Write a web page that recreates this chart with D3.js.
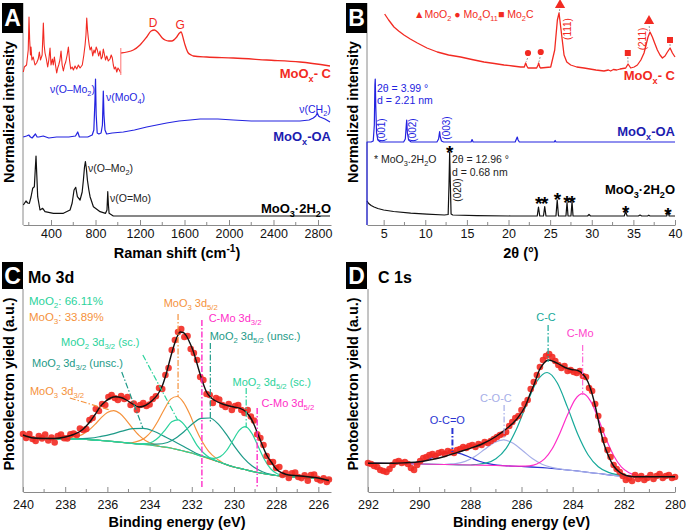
<!DOCTYPE html>
<html>
<head>
<meta charset="utf-8">
<script src="https://cdn.jsdelivr.net/npm/d3@7"></script>
<style>
  body { margin: 0; background: #fff; }
  svg { font-family: "Liberation Sans", Arial, sans-serif; }
</style>
</head>
<body>
<div id="canvas"></div>
<script>
"use strict"

/* ---------- tick labels ---------- */
let ramanTicks = [400, 800, 1200, 1600, 2000, 2400, 2800];
let ramanMinor = [200, 600, 1000, 1400, 1800, 2200, 2600];
let thetaTicks = [5, 10, 15, 20, 25, 30, 35, 40];
let thetaMinor = [7.5, 12.5, 17.5, 22.5, 27.5, 32.5, 37.5];
let moTicks = [240, 238, 236, 234, 232, 230, 228, 226];
let moMinor = [239, 237, 235, 233, 231, 229, 227];
let cTicks = [292, 290, 288, 286, 284, 282, 280];
let cMinor = [291, 289, 287, 285, 283, 281];

/* ---------- A: Raman spectra [shift, intensity] ---------- */
let ramanC1 = [[151,153],[160,158],[180,160],[195,175],[202,208],[208,185],[215,170],[220,178],[228,165],[240,168],
  [256,160],[270,162],[285,166],[295,173],[305,165],[320,170],[331,202],[338,180],[346,172],[358,166],[370,158],
  [380,165],[391,177],[400,160],[412,166],[420,160],[430,168],[440,160],[451,152],[460,157],[469,160],[480,165],
  [490,174],[500,160],[511,154],[522,160],[532,163],[545,170],[556,178],[566,165],[577,156],[590,158],[601,155],
  [616,159],[631,156],[646,160],[661,157],[681,160],[695,170],[706,180],[714,190],[721,207],[728,195],[735,187],
  [743,180],[751,175],[763,178],[775,169],[786,175],[796,172],[806,178],[816,175],[828,169],[841,174],[851,166],
  [861,168],[870,176],[879,171],[890,165],[901,169],[915,164],[930,166],[941,170],[951,167],[960,160],[969,156],
  [980,158],[991,153],[1002,157],[1014,155],[1027,152]];
let ramanC2 = [[1027,172],[1140,175],[1200,180],[1260,188],[1300,194],[1330,195],[1365,192],[1400,187],[1425,185],
  [1460,184],[1485,184],[1530,188],[1555,192],[1569,193],[1590,186],[1605,180],[1634,172],[1660,170],[1679,169],
  [1800,168],[2039,167],[2339,165],[2638,163],[2908,159]];
let ramanOA = [[150,88],[180,89],[200,90],[215,88],[230,87],[245,89],[260,91],[275,88],[290,88],[330,89],[380,87],
  [450,88],[560,88],[620,89],[640,93],[655,88],[730,88],[770,90],[785,95],[795,125],[800,146],[806,110],[815,92],
  [830,91],[850,92],[862,100],[870,134],[876,110],[885,95],[900,91],[950,92],[1050,93],[1150,95],[1260,98],
  [1350,100],[1440,102],[1550,104],[1650,105],[1740,106],[1900,106],[2039,105],[2200,104],[2339,104],[2500,104],
  [2638,104],[2720,105],[2758,107],[2780,109],[2794,112],[2805,109],[2818,108],[2863,106],[2908,103]];
let ramanH2O = [[151,20],[175,24],[190,22],[205,21.7],[220,28],[235,36.7],[250,38.3],[258,55],[265,69],[272,50],
  [280,28.3],[301,15],[325,16.7],[346,13.3],[421,11.7],[511,11.7],[571,15],[590,22],[607,35],[622,37.7],[637,28.3],
  [661,25],[680,33],[691,45],[701,58],[709,63.3],[718,56],[727,45],[740,35],[751,28.3],[781,18.3],[841,13.3],
  [890,11.7],[903,15],[910,33.3],[916,20],[922,11.7],[960,9],[1100,9],[2908,9]];

/* ---------- B: XRD patterns [2theta, intensity] ---------- */
let xrdC = [[5.12,211],[5.6,205],[6.24,198],[6.8,194],[7.44,190],[8.2,186],[9.05,182],[10.2,177],[11.45,173],
  [12.8,170],[14.25,168],[15.6,165.5],[17.05,163],[18.3,161.5],[19.46,160],[20.5,159],[21.46,158],[21.9,158],
  [22.06,162],[22.2,159],[22.34,157],[23.38,157],[23.55,160],[23.62,162],[23.75,158],[23.86,157],[25.07,158],
  [25.55,175],[25.87,205],[26.07,212],[26.27,198],[26.67,170],[27.0,163],[27.47,160],[28.2,158],[29.07,157],
  [30.5,155],[31.47,154],[32.0,155],[32.27,154],[32.6,155.5],[33.0,155],[33.4,156],[34.08,157],[34.36,161],
  [34.68,157],[35.1,158],[35.48,160],[35.9,165],[36.28,172],[36.76,188],[37.0,193],[37.28,188],[37.6,181],
  [37.88,175],[38.2,170],[38.49,167],[38.8,169],[39.09,173],[39.41,177],[39.69,172],[40.0,168]];
let xrdOA = [[3.0,0],[3.0,83],[3.5,83],[3.75,84],[3.88,100],[3.95,140],[3.99,146],[4.05,120],[4.15,92],[4.3,85],
  [4.6,83],[7.4,83],[7.6,86],[7.72,100],[7.77,105],[7.85,92],[8.0,85],[8.3,83],[11.4,83],[11.6,86],[11.7,92],
  [11.73,93.3],[11.8,88],[11.95,84],[12.2,83],[15.5,83],[15.62,85.5],[15.75,83],[20.8,83],[20.95,86],[21.05,88],
  [21.15,85],[21.3,83],[25.5,83],[25.6,84.5],[25.7,83],[30,83],[40,83]];
let xrdH2O = [[3.0,24],[3.2,21.5],[3.5,19.5],[3.85,18],[4.3,16.5],[5.0,15],[6.2,13.5],[8.25,11.8],[10.2,10.8],
  [12.3,10],[12.75,10.5],[12.85,40],[12.93,73],[13.0,45],[13.1,11],[13.3,10],[16.2,9.3],[20.3,9],[23.45,9],
  [23.6,18],[23.75,9],[24.2,9],[24.35,18.5],[24.5,9],[25.7,9],[25.85,25],[26.0,9],[26.9,9],[27.03,22.5],[27.15,9],
  [27.5,9],[27.63,23.5],[27.75,9],[29.5,9],[29.67,10.5],[29.85,9],[33.9,9],[34.08,13.5],[34.25,9],[35.6,9],
  [35.8,10],[36.0,9],[36.7,9],[36.85,9.8],[37.0,9],[39.0,9],[39.16,13.5],[39.3,9],[40,9]];
let starPeaks = [[12.93,78],[23.62,27],[24.35,27],[25.87,31],[27.03,28],[27.63,28],[34.08,18],[39.16,16]];

/* ---------- C: Mo 3d XPS [binding energy, counts] ---------- */
let moDots = [[240,58],[239.85,54],[239.7,58],[239.55,53],[239.4,51],[239.25,56],[239.1,53.6],[238.95,57.5],
  [238.8,51.5],[238.65,54.5],[238.5,49.5],[238.35,56],[238.2,57.4],[238.05,53.8],[237.9,53.6],[237.75,57.6],
  [237.6,58.5],[237.45,57],[237.3,63.5],[237.15,62],[237,63],[236.85,72],[236.7,74],[236.55,83],[236.4,81],
  [236.25,88],[236.1,87],[235.95,95],[235.8,97],[235.65,94],[235.5,92],[235.35,96],[235.2,93],[235.05,95],
  [234.9,87],[234.75,88.5],[234.6,82],[234.45,87],[234.3,89],[234.15,86],[234,87.5],[233.85,93],[233.7,95.7],
  [233.55,104],[233.4,103],[233.25,117],[233.1,124],[232.95,142],[232.8,152],[232.65,160],[232.5,163],
  [232.35,155],[232.2,156],[232.05,143],[231.9,139],[231.75,132],[231.6,115],[231.45,112],[231.3,98],
  [231.15,97],[231,89],[230.85,94],[230.7,92.5],[230.55,87],[230.4,85],[230.25,88],[230.1,82],[229.95,86],
  [229.8,87],[229.65,82],[229.5,79],[229.35,82],[229.2,75.5],[229.05,71.5],[228.9,57.6],[228.75,54],[228.6,47],
  [228.45,36],[228.3,30],[228.15,30],[228,24],[227.85,25],[227.7,17],[227.55,19],[227.4,14],[227.25,18.7],
  [227.1,19.5],[226.95,15],[226.8,13.9],[226.65,16.6],[226.5,11.3],[226.35,16.9],[226.2,17.5],[226.05,13.1],
  [225.9,11.5],[225.75,13.8],[225.6,10],[225.5,12.5]];
let moFit = [[240,57],[239.5,54],[239,53.5],[238.5,53.5],[238,55],[237.6,57.5],[237.3,60.5],[237,66],[236.8,71],
  [236.6,77],[236.35,85],[236.1,90.5],[235.85,94],[235.6,95.3],[235.35,94.5],[235.1,92],[234.8,88],[234.5,85],
  [234.2,86.5],[233.9,91],[233.6,98],[233.4,106],[233.2,119],[233,135],[232.85,146],[232.7,155],[232.55,160],
  [232.4,159.5],[232.25,156],[232.1,149.5],[231.95,142],[231.8,132],[231.65,121],[231.5,111],[231.3,100],
  [231.1,94.5],[230.9,91.5],[230.6,88.5],[230.3,86.5],[230,85],[229.7,83.5],[229.45,80.5],[229.25,75.5],
  [229.05,67.5],[228.85,57],[228.65,46.5],[228.45,37],[228.2,29],[228,23],[227.7,19],[227.4,17],[227,16.3],
  [226.5,15.3],[226,14],[225.5,11.5]];
let moBg = [[240,55],[239,54],[238,53],[237.5,52.8],[237,52.5],[236.5,51.8],[236,51],[235.5,50],[235,49],
  [234.5,48],[234,47],[233.5,45.5],[233,44],[232.5,41.5],[232,39],[231.5,35.5],[231,32],[230.5,28.5],[230,25],
  [229.5,22.5],[229,20],[228.5,18],[228,16.5],[227,15],[226,13.5],[225.4,13]];
let moO3a = [[237.7,54.5],[237.2,57.4],[236.9,61.4],[236.6,67.3],[236.3,74.1],[236,79.6],[235.7,81.4],[235.4,78.4],
  [235.1,71.7],[234.8,63.7],[234.5,56.6],[234.2,51.6],[233.7,46.9]];
let moO2ua = [[237.8,53],[237.3,53.3],[236.8,53.8],[236.3,55.6],[235.8,57.9],[235.3,60.9],[234.8,63.3],[234.3,63.6],
  [233.8,60.7],[233.3,55.6],[232.8,50.3],[232.3,44.5],[231.8,38.8],[231.3,34.7],[230.8,30.8]];
let moO2sa = [[234.45,48.2],[234.15,48.5],[233.85,50.3],[233.55,55],[233.25,62.4],[232.95,70.2],[232.65,72.2],
  [232.35,67.2],[232.05,57.5],[231.75,46.6],[231.45,39.3],[231.15,34.3],[230.85,31.3]];
let moO3b = [[234.7,49.9],[234.2,54.5],[233.9,61],[233.6,71],[233.3,82.8],[233,92.9],[232.7,95.5],[232.4,89.9],
  [232.1,78],[231.8,62.8],[231.5,50.2],[231.2,40.6],[230.7,31.5]];
let moO2ub = [[234.15,47.8],[233.65,47.8],[233.15,49.5],[232.75,54],[232.35,60.7],[231.95,68.4],[231.55,73.6],
  [231.15,74],[230.75,68.1],[230.35,57.3],[229.95,44.8],[229.55,34.1],[229.15,26.2],[228.65,20.3],[228.15,17.2]];
let moO2sb = [[231.25,34.3],[230.95,33.7],[230.65,35.4],[230.35,41.5],[230.05,51.5],[229.75,61.7],[229.45,65.3],
  [229.15,58.6],[228.85,45.5],[228.55,32.2],[228.25,23],[227.95,18.3],[227.65,16.5]];

/* ---------- D: C 1s XPS ---------- */
let cDots = [[292,29],[291.88,28],[291.76,26],[291.64,25],[291.52,22],[291.4,21],[291.28,20],[291.16,23],
  [291.04,27],[290.92,30],[290.8,31],[290.68,29],[290.56,30],[290.44,28],[290.32,24],[290.2,22],[290.08,27],
  [289.96,31],[289.84,34],[289.72,35],[289.6,37],[289.48,38],[289.36,36],[289.24,39],[289.12,40],[289,38],
  [288.88,41],[288.76,40],[288.64,39],[288.52,42],[288.4,43],[288.28,45],[288.16,44],[288.04,46],[287.92,47],
  [287.8,45],[287.68,48],[287.56,47],[287.44,50],[287.32,49],[287.2,51],[287.08,53],[286.96,55],[286.84,57],
  [286.72,58],[286.6,60],[286.48,66],[286.36,70],[286.24,74],[286.12,76],[286,82],[285.88,88],[285.76,92],
  [285.64,103],[285.52,110],[285.4,117],[285.28,125],[285.16,132],[285.04,136],[284.92,138],[284.8,135],
  [284.68,131],[284.56,127],[284.44,124],[284.32,126],[284.2,121],[284.08,122],[283.96,120],[283.84,119],
  [283.72,121],[283.6,116],[283.48,115],[283.36,104],[283.24,101],[283.12,88],[283,76],[282.88,62],[282.76,52],
  [282.64,42],[282.52,35],[282.4,27],[282.28,23],[282.16,20],[282.04,16],[281.92,12],[281.8,14],[281.68,11],
  [281.56,17],[281.44,13],[281.32,16],[281.2,12],[281.08,14],[280.96,17],[280.84,13],[280.72,16],[280.6,18],
  [280.48,14],[280.36,16],[280.24,17],[280.12,14],[280,15]];
let cFit = [[292,28.7],[291.5,28.7],[291,28.7],[290.5,29.3],[290,30.2],[289.5,32.5],[289,35.5],[288.5,39.7],
  [288,43.7],[287.5,48.5],[287,55.5],[286.6,63],[286.2,72.5],[285.85,86],[285.65,99],[285.5,108],[285.3,122],
  [285.15,128],[284.95,132],[284.75,130.5],[284.55,128],[284.3,124.5],[284.05,122.5],[283.8,121.5],[283.6,118],
  [283.4,110],[283.25,99],[283.1,84],[282.95,66],[282.8,50],[282.6,36],[282.4,26],[282.15,19.5],[281.9,16.5],
  [281.6,15.3],[281,15.3],[280.5,15.3],[280,15.3]];
let cBg = [[292,29],[291,28.5],[290,28],[289,27.5],[288,27],[287,26.5],[286,25.5],[285,24],[284,21.5],[283,18.5],
  [282,16],[281,15.5],[280,15.5]];
let cOCO = [[290.8,28.5],[290.45,28.7],[290.1,29.75],[289.75,31.9],[289.4,35.2],[289.05,38.4],[288.7,39.75],
  [288.35,38.1],[288,34.5],[287.65,30.8],[287.3,28.35],[286.95,26.95],[286.6,26.2]];
let cCOC = [[288.95,27.7],[288.575,28.4],[288.2,30.6],[287.825,35.4],[287.45,42.5],[287.075,49.4],[286.7,52.2],
  [286.325,48.7],[285.95,41.3],[285.575,33.4],[285.2,27.8],[284.825,24.7],[284.45,22.9]];
let cCC = [[287.8,27.5],[287.4,28.8],[287,33.3],[286.6,43.7],[286.2,62.7],[285.8,87.8],[285.4,110.6],[285,119.5],
  [284.6,109],[284.2,84.6],[283.8,57.8],[283.4,37.3],[283,25.3],[282.6,19.6],[282.2,17.1]];
let cCMo = [[286,25.8],[285.7,26.2],[285.4,28],[285.1,33.1],[284.8,43.2],[284.5,58.8],[284.2,77.2],[283.9,92.7],
  [283.6,98.3],[283.3,90.9],[283,73.6],[282.7,53.4],[282.4,36.5],[282.1,25.1],[281.8,19.3],[281.5,16.7],[281.2,15.8]];

/* ---------- colours ---------- */
let red = "#f22a22", blue = "#2323e0", navy = "#1c1cb0", gray = "#8a8a8a";
let orange = "#f5923c", lgreen = "#2bd39c", dteal = "#1d9a88", magenta = "#ff2ec8";
let cTeal = "#17a99a", lav = "#a6aee8", ocoBlue = "#2a34d2";

let drawing = d3.select("#canvas").append("svg")
  .attr("width", 688)
  .attr("height", 532);

/* scales */
let xA = d3.scaleLinear().domain([148, 2917]).range([23, 331]);
let yA = d3.scaleLinear().domain([0, 222]).range([225, 3]);
let xB = d3.scaleLinear().domain([3, 40]).range([367, 675]);
let xC = d3.scaleLinear().domain([240, 225.4]).range([23, 331]);
let yC = d3.scaleLinear().domain([0, 203]).range([492, 289]);
let xD = d3.scaleLinear().domain([292, 280]).range([368, 675]);

/* text with _{subscript} and ^{superscript} */
function rich(t, str, size) {
  let shift = 0;
  str.split(/([_^]\{[^}]*\})/).forEach(p => {
    if (!p) return;
    let target = 0, body = p;
    if (p.startsWith("_{")) { target = size * 0.3; body = p.slice(2, -1); }
    else if (p.startsWith("^{")) { target = -size * 0.38; body = p.slice(2, -1); }
    let span = t.append("tspan").attr("dy", target - shift).text(body);
    if (target !== 0) span.attr("font-size", size * 0.7);
    shift = target;
  });
}

function label(x, y, str, o) {
  o = o || {};
  let size = o.size || 11;
  let t = drawing.append("text")
    .attr("x", x).attr("y", y)
    .attr("font-size", size)
    .attr("fill", o.color || "#000")
    .attr("font-weight", o.bold ? "bold" : "normal")
    .attr("text-anchor", o.anchor || "start");
  if (o.rotate) t.attr("transform", `rotate(${o.rotate},${x},${y})`).attr("dominant-baseline", "central");
  rich(t, str, size);
  return t;
}

function axes(x, y, ticks, minor, pad, title, titleY) {
  let g = drawing.append("g").attr("transform", `translate(0,${y.range()[0]})`)
    .call(d3.axisBottom(x).tickValues(ticks).tickSize(-5).tickSizeOuter(0).tickPadding(pad).tickFormat(d3.format("d")));
  g.attr("font-family", null).attr("font-size", null);
  g.selectAll("path, line").attr("stroke", gray);
  g.selectAll(".tick text").attr("font-size", 12.5).attr("fill", "#111");
  g.selectAll(".minor").data(minor).enter().append("line")
    .attr("x1", d => x(d)).attr("x2", d => x(d))
    .attr("y1", 0).attr("y2", -3)
    .attr("stroke", gray);
  drawing.append("line")
    .attr("x1", x.range()[0]).attr("x2", x.range()[0])
    .attr("y1", y.range()[1]).attr("y2", y.range()[0])
    .attr("stroke", gray);
  label((x.range()[0] + x.range()[1]) / 2, titleY, title, {size: 14.5, bold: true, anchor: "middle"});
}

function curve(x, y, data, color, width, type) {
  drawing.append("path").datum(data)
    .attr("d", d3.line().x(d => x(d[0])).y(d => y(d[1])).curve(type || d3.curveLinear))
    .attr("fill", "none")
    .attr("stroke", color)
    .attr("stroke-width", width)
    .attr("stroke-linejoin", "round");
}

/* component peak joined to the shared background outside its own range */
function withBg(bg, peak) {
  let hi = peak[0][0], lo = peak[peak.length - 1][0];
  return bg.filter(d => d[0] > hi).concat(peak, bg.filter(d => d[0] < lo));
}

function dashLine(x, y, a, b, color, w) {
  drawing.append("line")
    .attr("x1", x(a[0])).attr("y1", y(a[1]))
    .attr("x2", x(b[0])).attr("y2", y(b[1]))
    .attr("stroke", color)
    .attr("stroke-width", w || 1.2)
    .attr("stroke-dasharray", "6,2,1.5,2");
}

function panelLetter(x, y, h, letter) {
  drawing.append("rect").attr("x", x).attr("y", y).attr("width", 21).attr("height", h).attr("fill", "#000");
  drawing.append("text").attr("x", x + 10.5).attr("y", y + h / 2 + 8)
    .attr("text-anchor", "middle").attr("font-size", 23).attr("font-weight", "bold")
    .attr("fill", "#fff").text(letter);
}

/* ================= A : Raman ================= */
axes(xA, yA, ramanTicks, ramanMinor, 4, "Raman shift (cm^{-1})", 258);
curve(xA, yA, ramanH2O, "#111", 1.2);
curve(xA, yA, ramanOA, blue, 1.2);
curve(xA, yA, ramanC1, red, 1.1);
curve(xA, yA, ramanC2, red, 1.3, d3.curveMonotoneX);
drawing.append("line")
  .attr("x1", xA(1027)).attr("x2", xA(1027))
  .attr("y1", yA(150)).attr("y2", yA(177))
  .attr("stroke", "#ff8a8a").attr("stroke-width", 1.2);
label(xA(1317), yA(198), "D", {size: 12, color: red, anchor: "middle"});
label(xA(1560), yA(196), "G", {size: 12, color: red, anchor: "middle"});
label(xA(2917), yA(147), "MoO_{x}- C", {size: 13, color: red, bold: true, anchor: "end"});
label(xA(795), yA(132), "\u03BD(O\u2013Mo_{2})", {size: 10.5, color: blue, anchor: "end"});
label(xA(894), yA(124), "\u03BD(MoO_{4})", {size: 10.5, color: blue});
label(xA(2773), yA(112), "\u03BD(CH_{2})", {size: 10.5, color: blue, anchor: "middle"});
label(xA(2917), yA(84), "MoO_{x}-OA", {size: 13, color: navy, bold: true, anchor: "end"});
label(xA(733), yA(53), "\u03BD(O\u2013Mo_{2})", {size: 10.5, color: "#222"});
label(xA(930), yA(23), "\u03BD(O=Mo)", {size: 10.5, color: "#222"});
label(xA(2917), yA(12), "MoO_{3}\u00B72H_{2}O", {size: 13, bold: true, anchor: "end"});
label(9, 112, "Normalized intensity", {size: 14.5, bold: true, anchor: "middle", rotate: -90});
panelLetter(2, 3, 30, "A");

/* ================= B : XRD ================= */
axes(xB, yA, thetaTicks, thetaMinor, 4, "2\u03B8 (\u00B0)", 258);
curve(xB, yA, xrdH2O, "#111", 1.2);
curve(xB, yA, xrdOA, blue, 1.2);
curve(xB, yA, xrdC, red, 1.3);
let markers = [[22.34, 172, d3.symbolCircle, 30], [23.87, 173, d3.symbolCircle, 30], [26.19, 220, d3.symbolTriangle, 45],
  [34.33, 172, d3.symbolSquare, 36], [36.88, 204, d3.symbolTriangle, 45], [39.4, 185, d3.symbolSquare, 36]];
drawing.selectAll(".mk").data(markers).enter().append("path")
  .attr("transform", d => `translate(${xB(d[0])},${yA(d[1])})`)
  .attr("d", d => d3.symbol().type(d[2]).size(d[3])())
  .attr("fill", red);
[[[22.3, 167], [22.1, 163]], [[23.8, 168], [23.65, 163]], [[26.15, 216], [26.1, 212]],
 [[34.33, 168], [34.36, 162]], [[36.9, 199], [36.95, 194]], [[39.4, 181], [39.41, 178]]].forEach(s => {
  drawing.append("line")
    .attr("x1", xB(s[0][0])).attr("y1", yA(s[0][1]))
    .attr("x2", xB(s[1][0])).attr("y2", yA(s[1][1]))
    .attr("stroke", "#999").attr("stroke-dasharray", "2,1.5");
});
label(xB(8.65), yA(207), "\u25B2MoO_{2} \u25CF Mo_{4}O_{11}\u25A0 Mo_{2}C", {size: 10.5, color: red});
label(xB(26.99), yA(196), "(111)", {size: 10, color: red, anchor: "middle", rotate: -90});
label(xB(36.0), yA(186), "(211)", {size: 10, color: red, anchor: "middle", rotate: -90});
label(xB(40), yA(145), "MoO_{x}- C", {size: 13, color: red, bold: true, anchor: "end"});
label(xB(4.2), yA(133), "2\u03B8 = 3.99 \u00B0", {size: 10.5, color: blue});
label(xB(4.2), yA(121), "d = 2.21 nm", {size: 10.5, color: blue});
label(xB(4.68), yA(95), "(001)", {size: 10, color: blue, anchor: "middle", rotate: -90});
label(xB(8.44), yA(95), "(002)", {size: 10, color: blue, anchor: "middle", rotate: -90});
label(xB(12.45), yA(97), "(003)", {size: 10, color: blue, anchor: "middle", rotate: -90});
label(xB(40), yA(89), "MoO_{x}-OA", {size: 13, color: navy, bold: true, anchor: "end"});
label(xB(3.84), yA(62), "* MoO_{3}.2H_{2}O", {size: 10.5, color: "#222"});
label(xB(13.2), yA(62), "2\u03B8 = 12.96 \u00B0", {size: 10.5, color: "#222"});
label(xB(13.2), yA(49), "d = 0.68 nm", {size: 10.5, color: "#222"});
label(xB(13.8), yA(35), "(020)", {size: 10, color: "#222", anchor: "middle", rotate: -90});
label(xB(40), yA(31), "MoO_{3}\u00B72H_{2}O", {size: 13, bold: true, anchor: "end"});
drawing.selectAll(".star").data(starPeaks).enter().append("text")
  .attr("x", d => xB(d[0])).attr("y", d => yA(d[1]))
  .attr("dy", "0.62em")
  .attr("text-anchor", "middle")
  .attr("font-size", 19).attr("font-weight", "bold")
  .text("*");
label(353, 112, "Normalized intensity", {size: 14.5, bold: true, anchor: "middle", rotate: -90});
panelLetter(346, 3, 30, "B");

/* ================= C : Mo 3d ================= */
axes(xC, yC, moTicks, moMinor, 8.5, "Binding energy (eV)", 527);
curve(xC, yC, moBg, orange, 1);
curve(xC, yC, withBg(moBg, moO3a), orange, 1.2, d3.curveMonotoneX);
curve(xC, yC, withBg(moBg, moO3b), orange, 1.2, d3.curveMonotoneX);
curve(xC, yC, withBg(moBg, moO2ua), dteal, 1.2, d3.curveMonotoneX);
curve(xC, yC, withBg(moBg, moO2ub), dteal, 1.2, d3.curveMonotoneX);
curve(xC, yC, withBg(moBg, moO2sa), lgreen, 1.2, d3.curveMonotoneX);
curve(xC, yC, withBg(moBg, moO2sb), lgreen, 1.2, d3.curveMonotoneX);
drawing.selectAll(".dotC").data(moDots).enter().append("circle")
  .attr("cx", d => xC(d[0])).attr("cy", d => yC(d[1]))
  .attr("r", 3.3).attr("fill", red).attr("fill-opacity", 0.9);
curve(xC, yC, moFit, "#111", 1.4, d3.curveMonotoneX);
dashLine(xC, yC, [232.65, 178], [232.65, 95], orange);
dashLine(xC, yC, [231.52, 172], [231.52, 4], magenta, 1.4);
dashLine(xC, yC, [231.12, 149], [231.12, 70], dteal);
dashLine(xC, yC, [229.42, 104], [229.42, 64], lgreen);
dashLine(xC, yC, [228.9, 84], [228.9, 4], magenta, 1.4);
dashLine(xC, yC, [234.32, 137], [232.67, 72], lgreen);
dashLine(xC, yC, [235.32, 120], [234.32, 64], dteal);
dashLine(xC, yC, [237.78, 94], [235.88, 82], orange);
label(28, 283, "Mo 3d", {size: 16, bold: true});
label(xC(239.72), yC(187), "MoO_{2}: 66.11%", {size: 11.5, color: lgreen});
label(xC(239.72), yC(171), "MoO_{3}: 33.89%", {size: 11.5, color: orange});
label(xC(232.05), yC(185), "MoO_{3} 3d_{5/2}", {size: 11, color: orange, anchor: "middle"});
label(xC(231.2), yC(170), "C-Mo 3d_{3/2}", {size: 11, color: magenta});
label(xC(231.15), yC(152), "MoO_{2} 3d_{5/2} (unsc.)", {size: 11, color: dteal});
label(xC(230.07), yC(106), "MoO_{2} 3d_{5/2} (sc.)", {size: 11, color: lgreen});
label(xC(228.7), yC(85), "C-Mo 3d_{5/2}", {size: 11, color: magenta});
label(xC(238.2), yC(146), "MoO_{2} 3d_{3/2} (sc.)", {size: 11, color: lgreen});
label(xC(239.57), yC(125), "MoO_{2} 3d_{3/2} (unsc.)", {size: 11, color: dteal});
label(xC(239.67), yC(97), "MoO_{3} 3d_{3/2}", {size: 11, color: orange});
label(9, 384, "Photoelectron yield (a.u.)", {size: 14.5, bold: true, anchor: "middle", rotate: -90});
panelLetter(2, 262, 27, "C");

/* ================= D : C 1s ================= */
axes(xD, yC, cTicks, cMinor, 8.5, "Binding energy (eV)", 527);
curve(xD, yC, withBg(cBg, cOCO), ocoBlue, 1.2, d3.curveMonotoneX);
curve(xD, yC, withBg(cBg, cCOC), lav, 1.2, d3.curveMonotoneX);
curve(xD, yC, withBg(cBg, cCC), cTeal, 1.2, d3.curveMonotoneX);
curve(xD, yC, withBg(cBg, cCMo), magenta, 1.2, d3.curveMonotoneX);
drawing.selectAll(".dotD").data(cDots).enter().append("circle")
  .attr("cx", d => xD(d[0])).attr("cy", d => yC(d[1]))
  .attr("r", 3.3).attr("fill", red).attr("fill-opacity", 0.9);
curve(xD, yC, cFit, "#111", 1.4, d3.curveMonotoneX);
dashLine(xD, yC, [284.96, 167], [284.96, 130], cTeal);
dashLine(xD, yC, [283.61, 147], [283.61, 97], "#ff66d6");
dashLine(xD, yC, [286.68, 87], [286.68, 52], lav);
dashLine(xD, yC, [288.7, 64], [288.7, 40], ocoBlue, 2);
label(378, 283, "C 1s", {size: 16, bold: true});
label(xD(285.04), yC(171), "C-C", {size: 11, color: cTeal, anchor: "middle"});
label(xD(283.71), yC(155), "C-Mo", {size: 11, color: "#ff44cc", anchor: "middle"});
label(xD(287.0), yC(90), "C-O-C", {size: 11, color: lav, anchor: "middle"});
label(xD(288.9), yC(68), "O-C=O", {size: 11, color: ocoBlue, anchor: "middle"});
label(353, 384, "Photoelectron yield (a.u.)", {size: 14.5, bold: true, anchor: "middle", rotate: -90});
panelLetter(346, 262, 27, "D");
</script>
</body>
</html>
